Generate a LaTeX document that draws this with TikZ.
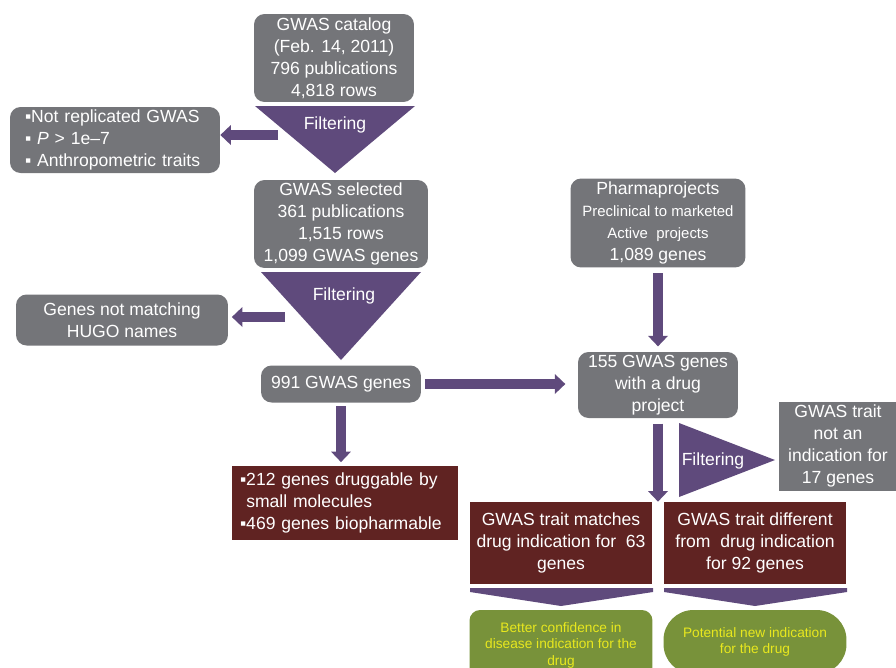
\documentclass[tikz,border=0pt]{standalone}
\usepackage{fontspec}
\setmainfont{Liberation Sans}
\usetikzlibrary{arrows.meta}
\definecolor{boxgray}{RGB}{116,117,121}
\definecolor{boxred}{RGB}{96,35,34}
\definecolor{boxgreen}{RGB}{120,146,58}
\definecolor{textyellow}{RGB}{232,232,30}
\definecolor{filtpurple}{RGB}{95,74,124}
\begin{document}
\begin{tikzpicture}[x=0.02cm,y=-0.02cm,font=\fontsize{10}{12.5}\selectfont,
	graybox/.style={fill=boxgray,text=white,align=center,inner sep=0pt},
	redbox/.style={fill=boxred,text=white,align=center,inner sep=0pt},
	greenbox/.style={fill=boxgreen,text=textyellow,align=center,inner sep=0pt,font=\fontsize{7.8}{9.4}\selectfont},
	filt/.style={fill=filtpurple},
	bigarrow/.style={draw=filtpurple,line width=6pt,-{Triangle[width=11pt,length=6pt]}}]
	\useasboundingbox (0,0) rectangle (896,667);
	\clip (0,0) rectangle (896,667);
	% left column
	\node[graybox,rounded corners=6pt,minimum width=3.2cm,minimum height=1.76cm] (catalog) at (334,58) {GWAS catalog\\(Feb. 14, 2011)\\796 publications\\4,818 rows};
	\fill[filt] (255,106) -- (415,106) -- (335,173) -- cycle;
	\node[text=white] (filt1) at (335,125) {Filtering};
	\node[graybox,rounded corners=6pt,minimum width=4.2cm,minimum height=1.32cm,text width=3.6cm,inner xsep=0.3cm,align=left] (notrep) at (115,140) {▪Not replicated GWAS\\▪ \textit{P} > 1e--7\\▪ Anthropometric traits};
	\coordinate (f1out) at (278,135);
	\draw[bigarrow] (f1out) -- (f1out -| notrep.east);
	\node[graybox,rounded corners=6pt,minimum width=3.48cm,minimum height=1.76cm] (selected) at (341,224) {GWAS selected\\361 publications\\1,515 rows\\1,099 GWAS genes};
	\fill[filt] (261,272) -- (421,272) -- (341,360) -- cycle;
	\node[text=white] (filt2) at (344,296) {Filtering};
	\node[graybox,rounded corners=6pt,minimum width=4.24cm,minimum height=1.02cm] (hugo) at (122,320) {Genes not matching\\HUGO names};
	\coordinate (f2out) at (285,317);
	\draw[bigarrow,shorten >=2pt] (f2out) -- (f2out -| hugo.east);
	\node[graybox,rounded corners=6pt,minimum width=3.2cm,minimum height=0.74cm] (g991) at (341,384) {991 GWAS genes};
	\node[redbox,minimum width=4.52cm,minimum height=1.48cm,text width=4.2cm,inner xsep=0.16cm,align=left] (drug) at (345,503) {▪212 genes druggable by\\\phantom{▪}small molecules\\▪469 genes biopharmable};
	\draw[bigarrow,shorten <=2pt,shorten >=2pt] (g991.south) -- (g991.south |- drug.north);
	% right column
	\node[graybox,rounded corners=6pt,minimum width=3.5cm,minimum height=1.78cm] (pharma) at (658,223) {Pharmaprojects\\{\fontsize{8.5}{10.5}\selectfont Preclinical to marketed}\\{\fontsize{8.5}{10.5}\selectfont Active\ \ projects}\\1,089 genes};
	\node[graybox,rounded corners=6pt,minimum width=3.2cm,minimum height=1.32cm] (g155) at (658,385) {155 GWAS genes\\with a drug\\project};
	\draw[bigarrow,shorten <=3pt,shorten >=3pt] (pharma.south) -- (g155.north);
	\draw[bigarrow,shorten <=2pt,shorten >=7pt] (g991.east) -- (g991.east -| g155.west);
	\fill[filt] (679,423) -- (679,497) -- (775,460) -- cycle;
	\node[text=white] (filt3) at (713,461) {Filtering};
	\node[graybox,minimum width=2.36cm,minimum height=1.78cm] (notind) at (838,446) {GWAS trait\\not an\\indication for\\17 genes};
	\node[redbox,minimum width=3.66cm,minimum height=1.64cm] (match) at (561,543) {GWAS trait matches\\drug indication for\ \ 63\\genes};
	\node[redbox,minimum width=3.66cm,minimum height=1.64cm] (diff) at (755,543) {GWAS trait different\\from\ \ drug indication\\for 92 genes};
	\draw[bigarrow,shorten <=3pt] (g155.south) -- (g155.south |- match.north);
	\fill[filt] (470,588) -- (653,588) -- (653,592) -- (561,606) -- (470,592) -- cycle;
	\fill[filt] (664,588) -- (847,588) -- (847,592) -- (755,606) -- (664,592) -- cycle;
	\node[greenbox,rounded corners=6pt,minimum width=3.66cm,minimum height=1.4cm] (better) at (561,645) {Better confidence in\\disease indication for the\\drug};
	\node[greenbox,rounded corners=17pt,minimum width=3.66cm,minimum height=1.28cm] (potential) at (755,642) {Potential new indication\\for the drug};
\end{tikzpicture}
\end{document}
